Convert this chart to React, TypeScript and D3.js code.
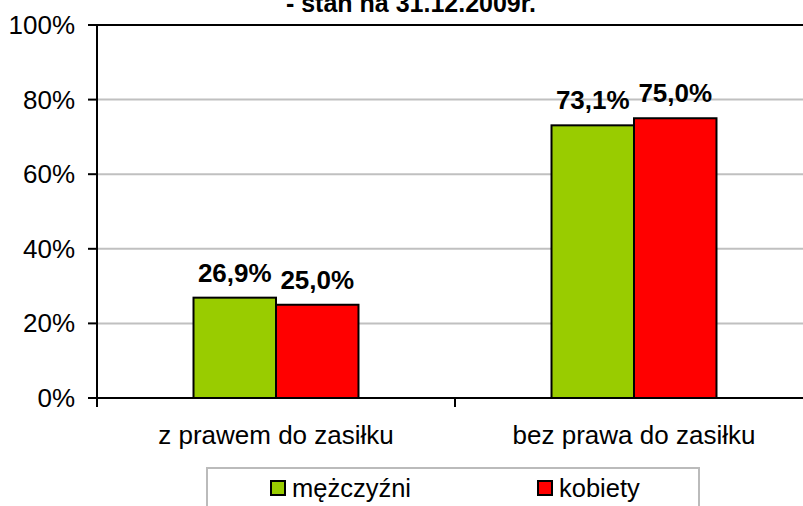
import React from "react";
import * as d3 from "d3";

const categories = ["z prawem do zasiłku", "bez prawa do zasiłku"];
const seriesNames = ["mężczyźni", "kobiety"];
const seriesColors = ["#99CC00", "#FF0000"];
const men = [26.9, 73.1];
const women = [25.0, 75.0];
const yTicks = [0, 20, 40, 60, 80, 100];

const W = 803;
const H = 506;
const FONT = "'Liberation Sans', Arial, sans-serif";

export default function App() {
  const left = 97;
  const right = 813;
  const top = 25;
  const bottom = 398;

  const y = d3.scaleLinear().domain([0, 100]).range([bottom, top]);
  const x = d3.scaleBand<string>().domain(categories).range([left, right]).padding(0);
  const xs = d3
    .scaleBand<string>()
    .domain(seriesNames)
    .range([0, x.bandwidth()])
    .paddingInner(0)
    .paddingOuter(1.17);

  const series = [men, women];
  const fmt = (v: number) => v.toFixed(1).replace(".", ",") + "%";

  return (
    <svg
      width={W}
      height={H}
      style={{ position: "absolute", left: 0, top: 0, background: "#fff" }}
      fontFamily={FONT}
    >
      {/* title (first line is off the top) */}
      <text x={411} y={12} textAnchor="middle" fontSize={25} fontWeight="bold" fill="#000">
        - stan na 31.12.2009r.
      </text>

      {/* gridlines */}
      {yTicks.slice(1, -1).map((t) => (
        <line key={t} x1={left} x2={right} y1={y(t)} y2={y(t)} stroke="#c0c0c0" strokeWidth={2} />
      ))}
      <line x1={left} x2={right} y1={y(100)} y2={y(100)} stroke="#000" strokeWidth={2} />

      {/* bars */}
      {categories.map((c, ci) =>
        seriesNames.map((s, si) => {
          const v = series[si][ci];
          const bx = (x(c) ?? 0) + (xs(s) ?? 0);
          return (
            <g key={c + s}>
              <rect
                x={bx}
                y={y(v)}
                width={xs.bandwidth()}
                height={y(0) - y(v)}
                fill={seriesColors[si]}
                stroke="#000"
                strokeWidth={2}
              />
              <text
                x={bx + xs.bandwidth() / 2}
                y={y(v) - 16}
                textAnchor="middle"
                fontSize={26}
                fontWeight="bold"
                fill="#000"
              >
                {fmt(v)}
              </text>
            </g>
          );
        })
      )}

      {/* y axis */}
      <line x1={left} x2={left} y1={top} y2={bottom} stroke="#000" strokeWidth={2} />
      {yTicks.map((t) => (
        <g key={t}>
          <line x1={left - 9} x2={left} y1={y(t)} y2={y(t)} stroke="#000" strokeWidth={2} />
          <text x={left - 22} y={y(t) + 9} textAnchor="end" fontSize={26} fill="#000">
            {t}%
          </text>
        </g>
      ))}

      {/* x axis */}
      <line x1={left} x2={right} y1={bottom} y2={bottom} stroke="#000" strokeWidth={2} />
      {[...categories.map((c) => x(c) ?? 0), right].map((px, i) => (
        <line key={i} x1={px} x2={px} y1={bottom} y2={bottom + 9} stroke="#000" strokeWidth={2} />
      ))}
      {categories.map((c) => (
        <text
          key={c}
          x={(x(c) ?? 0) + x.bandwidth() / 2}
          y={444}
          textAnchor="middle"
          fontSize={26}
          fill="#000"
        >
          {c}
        </text>
      ))}

      {/* legend */}
      <rect x={207} y={468} width={492} height={60} fill="#fff" stroke="#bbb" strokeWidth={2} />
      {seriesNames.map((s, i) => {
        const lx = [271, 538][i];
        return (
          <g key={s}>
            <rect x={lx} y={481} width={14} height={14} fill={seriesColors[i]} stroke="#000" strokeWidth={2} />
            <text x={lx + 21} y={497} fontSize={25.5} fill="#000">
              {s}
            </text>
          </g>
        );
      })}
    </svg>
  );
}
